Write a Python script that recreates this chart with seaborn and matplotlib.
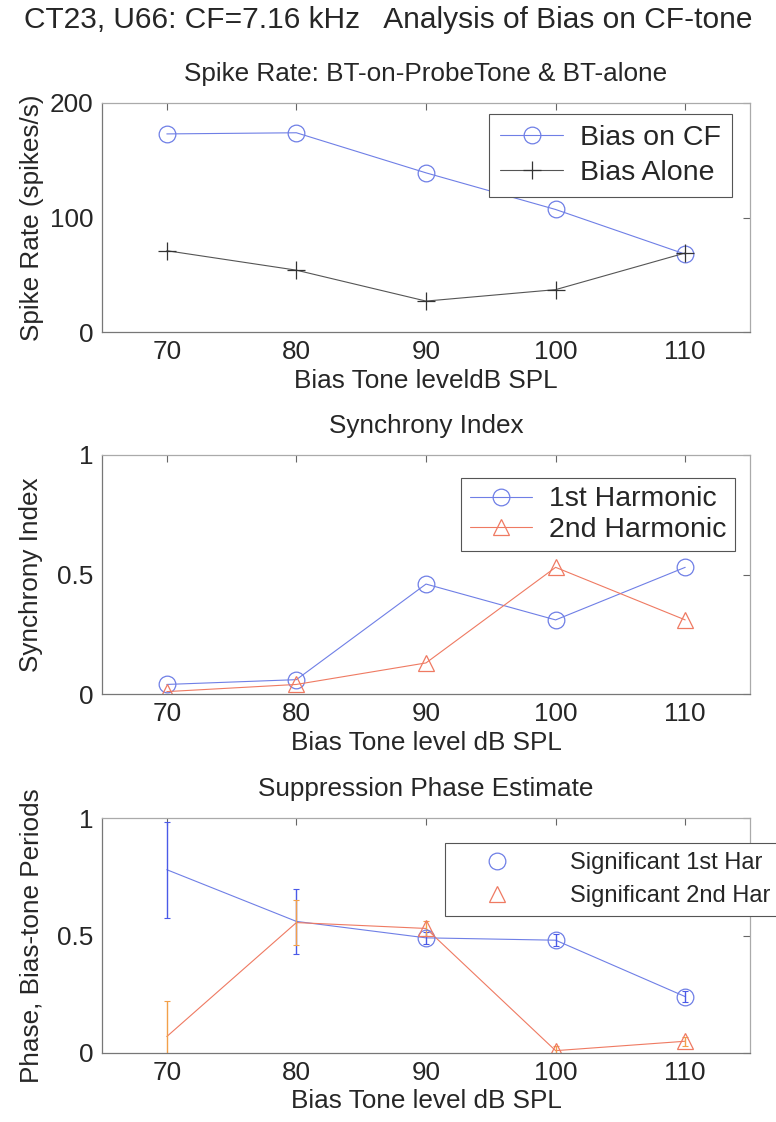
import matplotlib
matplotlib.use("Agg")
import matplotlib.pyplot as plt
from matplotlib.lines import Line2D
import numpy as np
import seaborn as sns

# Bias tone levels (dB SPL)
levels = [70, 80, 90, 100, 110]

# Spike rates (spikes/s)
rate_bias_on_cf = [173, 174, 139, 107, 68]
rate_bias_alone = [71, 54, 27, 37, 69]

# Synchrony index
si_1st = [0.04, 0.06, 0.46, 0.31, 0.53]
si_2nd = [0.01, 0.04, 0.13, 0.53, 0.31]

# Suppression phase estimate (bias-tone periods) with error
phase_1st = [0.78, 0.56, 0.49, 0.48, 0.24]
phase_1st_err = [0.205, 0.14, 0.025, 0.025, 0.025]
sig_1st = [False, False, True, True, True]
phase_2nd = [0.07, 0.555, 0.53, 0.01, 0.05]
phase_2nd_err = [0.15, 0.095, 0.03, 0.02, 0.02]
sig_2nd = [False, False, True, True, True]

sns.set_style("white")
plt.rcParams["font.family"] = ["Liberation Sans", "DejaVu Sans"]

BLUE = "#6f7fe6"
BLUE_ERR = "#4a5ae8"
RED = "#ef7a62"
ORANGE_ERR = "#f2a04a"
BLACK = "#555555"
FS = 18.8
LEG_FS = 20.5
TITLE_PAD = 15.5

fig = plt.figure(figsize=(7.76, 11.22), dpi=100)
W = 776.0
H = 1122.0


def make_axes(top_px, bot_px):
    left, right = 102, 750
    return fig.add_axes([left / W, 1 - bot_px / H, (right - left) / W, (bot_px - top_px) / H])


def style_axes(ax, ylim, yticks, yticklabels):
    ax.set_xlim(65, 115)
    ax.set_ylim(*ylim)
    ax.set_xticks(levels)
    ax.set_xticklabels([str(v) for v in levels], fontsize=FS)
    ax.set_yticks(yticks)
    ax.set_yticklabels(yticklabels, fontsize=FS)
    ax.tick_params(direction="in", top=True, right=True, length=5, width=0.8,
                   color="#666666", pad=6)
    for side in ["left", "bottom"]:
        ax.spines[side].set_color("#777777")
        ax.spines[side].set_linewidth(0.9)
    for side in ["top", "right"]:
        ax.spines[side].set_color("#aaaaaa")
        ax.spines[side].set_linewidth(0.9)


def style_legend(leg):
    frame = leg.get_frame()
    frame.set_edgecolor("#555555")
    frame.set_linewidth(0.8)
    frame.set_boxstyle("square", pad=0)
    frame.set_alpha(1)


fig.text(0.5, 1 - 20 / H, "CT23, U66: CF=7.16 kHz   Analysis of Bias on CF-tone",
         ha="center", va="center", fontsize=21.5)

# Panel 1: spike rates
ax1 = make_axes(103, 332)
sns.lineplot(x=levels, y=rate_bias_on_cf, ax=ax1, color=BLUE, lw=0.8,
             marker="o", markersize=12, markerfacecolor="none",
             markeredgecolor=BLUE, markeredgewidth=0.9, label="Bias on CF")
sns.lineplot(x=levels, y=rate_bias_alone, ax=ax1, color=BLACK, lw=0.8,
             marker="+", markersize=13, markeredgecolor="#333333",
             markeredgewidth=0.9, label="Bias Alone")
style_axes(ax1, (0, 200), [0, 100, 200], ["0", "100", "200"])
ax1.set_title("Spike Rate: BT-on-ProbeTone & BT-alone", fontsize=FS, pad=TITLE_PAD)
ax1.set_xlabel("Bias Tone leveldB SPL", fontsize=FS, labelpad=3)
ax1.set_ylabel("Spike Rate (spikes/s)", fontsize=FS, labelpad=4)
leg = ax1.legend(loc="upper left", bbox_to_anchor=(0.597, 0.952), fontsize=LEG_FS,
                 frameon=True, fancybox=False, handlelength=2.2,
                 borderpad=0.4, labelspacing=0.3, handletextpad=0.6,
                 borderaxespad=0)
style_legend(leg)

# Panel 2: synchrony index
ax2 = make_axes(455, 694)
sns.lineplot(x=levels, y=si_1st, ax=ax2, color=BLUE, lw=0.8,
             marker="o", markersize=12, markerfacecolor="none",
             markeredgecolor=BLUE, markeredgewidth=0.9, label="1st Harmonic")
sns.lineplot(x=levels, y=si_2nd, ax=ax2, color=RED, lw=0.8,
             marker="^", markersize=12, markerfacecolor="none",
             markeredgecolor=RED, markeredgewidth=0.9, label="2nd Harmonic")
style_axes(ax2, (0, 1), [0, 0.5, 1], ["0", "0.5", "1"])
ax2.set_title("Synchrony Index", fontsize=FS, pad=TITLE_PAD)
ax2.set_xlabel("Bias Tone level dB SPL", fontsize=FS, labelpad=3)
ax2.set_ylabel("Synchrony Index", fontsize=FS, labelpad=10)
leg = ax2.legend(loc="upper left", bbox_to_anchor=(0.554, 0.904), fontsize=LEG_FS,
                 frameon=True, fancybox=False, handlelength=2.2,
                 borderpad=0.3, labelspacing=0.15, handletextpad=0.6,
                 borderaxespad=0)
style_legend(leg)

# Panel 3: suppression phase estimate
ax3 = make_axes(818, 1053)
sns.lineplot(x=levels, y=phase_1st, ax=ax3, color=BLUE, lw=0.8)
sns.lineplot(x=levels, y=phase_2nd, ax=ax3, color=RED, lw=0.8)
ax3.errorbar(levels, phase_1st, yerr=phase_1st_err, fmt="none",
             ecolor=BLUE_ERR, elinewidth=1.0, capsize=2.5, capthick=0.8)
ax3.errorbar(levels, phase_2nd, yerr=phase_2nd_err, fmt="none",
             ecolor=ORANGE_ERR, elinewidth=1.0, capsize=2.5, capthick=0.8)
x1 = [x for x, s in zip(levels, sig_1st) if s]
y1 = [y for y, s in zip(phase_1st, sig_1st) if s]
x2 = [x for x, s in zip(levels, sig_2nd) if s]
y2 = [y for y, s in zip(phase_2nd, sig_2nd) if s]
ax3.plot(x1, y1, ls="none", marker="o", markersize=12, markerfacecolor="none",
         markeredgecolor=BLUE, markeredgewidth=0.9)
ax3.plot(x2, y2, ls="none", marker="^", markersize=12, markerfacecolor="none",
         markeredgecolor=RED, markeredgewidth=0.9)
style_axes(ax3, (0, 1), [0, 0.5, 1], ["0", "0.5", "1"])
ax3.set_title("Suppression Phase Estimate", fontsize=FS, pad=TITLE_PAD)
ax3.set_xlabel("Bias Tone level dB SPL", fontsize=FS, labelpad=3)
ax3.set_ylabel("Phase, Bias-tone Periods", fontsize=FS, labelpad=10)
handles = [
    Line2D([], [], ls="none", marker="o", markersize=12, markerfacecolor="none",
           markeredgecolor=BLUE, markeredgewidth=0.9),
    Line2D([], [], ls="none", marker="^", markersize=12, markerfacecolor="none",
           markeredgecolor=RED, markeredgewidth=0.9),
]
leg = ax3.legend(handles, ["Significant 1st Har", "Significant 2nd Har"],
                 loc="upper left", bbox_to_anchor=(0.529, 0.894), fontsize=17,
                 frameon=True, fancybox=False, handlelength=3.6,
                 borderpad=0.4, labelspacing=0.45, handletextpad=1.3,
                 borderaxespad=0)
style_legend(leg)

fig.savefig("out.png", dpi=100)
